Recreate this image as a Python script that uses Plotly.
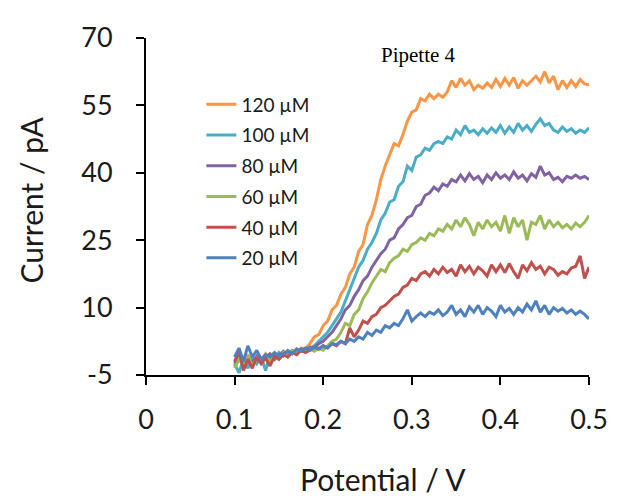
import plotly.graph_objects as go

potential = [0.100, 0.105, 0.110, 0.115, 0.120, 0.125, 0.130, 0.135, 0.140, 0.145,
             0.150, 0.155, 0.160, 0.165, 0.170, 0.175, 0.180, 0.185, 0.190, 0.195,
             0.200, 0.205, 0.210, 0.215, 0.220, 0.225, 0.230, 0.235, 0.240, 0.245,
             0.250, 0.255, 0.260, 0.265, 0.270, 0.275, 0.280, 0.285, 0.290, 0.295,
             0.300, 0.305, 0.310, 0.315, 0.320, 0.325, 0.330, 0.335, 0.340, 0.345,
             0.350, 0.355, 0.360, 0.365, 0.370, 0.375, 0.380, 0.385, 0.390, 0.395,
             0.400, 0.405, 0.410, 0.415, 0.420, 0.425, 0.430, 0.435, 0.440, 0.445,
             0.450, 0.455, 0.460, 0.465, 0.470, 0.475, 0.480, 0.485, 0.490, 0.495,
             0.500]

i_120 = [-3.0, -1.0, -2.5, -0.5, -2.0, -1.0, -1.8, -0.3, -1.5, -0.2,
         -1.0, 0.3, -0.5, 0.5, 0.0, 1.0, 0.8, 2.0, 3.5, 4.0,
         6.0, 7.0, 9.5, 10.5, 13.0, 14.5, 17.5, 19.0, 22.5, 24.0,
         28.5, 30.5, 34.0, 38.5, 41.5, 44.0, 46.5, 46.0, 48.5, 51.5,
         53.5, 54.0, 56.5, 56.0, 57.5, 56.5, 57.5, 56.8, 58.0, 60.5,
         59.0, 61.0, 59.5, 60.5, 58.5, 59.5, 58.8, 60.0, 59.0, 60.8,
         59.2, 61.0, 59.5, 61.2, 58.8, 60.5, 59.5, 60.5, 61.5, 60.2,
         62.5, 60.0, 61.5, 58.5, 60.5, 59.0, 60.5, 59.2, 60.8, 59.8,
         59.5]

i_100 = [-2.5, -4.5, -1.5, -3.5, -1.0, -2.5, -1.0, -4.0, -0.5, -1.5,
         0.0, -0.8, 0.5, -0.2, 0.5, 0.2, 1.0, 0.8, 1.5, 2.5,
         3.5, 4.5, 6.0, 7.5, 9.0, 11.5, 14.0, 16.5, 19.0, 20.5,
         23.0, 24.5, 26.5, 29.5, 31.0, 33.5, 34.0, 37.0, 38.0, 41.5,
         40.5, 43.5, 44.0, 45.5, 45.0, 46.5, 47.0, 46.5, 48.0, 47.5,
         49.5, 48.5, 50.5, 49.0, 49.5, 48.5, 49.8, 48.8, 50.0, 49.0,
         50.5, 48.8, 50.2, 49.0, 51.0, 49.5, 50.5, 49.2, 50.8, 52.0,
         50.5, 51.0, 49.5, 49.0, 50.2, 49.2, 49.8, 48.8, 49.5, 49.0,
         50.0]

i_80 = [-2.5, -0.5, -3.0, -1.5, -2.2, -0.8, -1.8, -1.0, -0.3, -1.5,
        -0.5, 0.2, -0.8, 0.4, 0.0, 0.8, 0.5, 1.2, 1.0, 2.0,
        2.5, 3.5, 4.5, 6.0, 7.5, 9.5, 10.5, 12.5, 14.0, 16.0,
        17.0, 19.0, 20.5, 22.0, 23.0, 25.0, 25.5, 27.5, 28.5, 30.0,
        30.5, 32.5, 33.0, 35.0, 35.5, 36.8, 36.0, 37.5, 37.0, 38.5,
        38.0, 39.5, 38.2, 39.8, 38.5, 39.2, 37.8, 39.5, 38.5, 40.0,
        38.8, 39.5, 38.5, 40.2, 38.8, 39.5, 38.2, 39.8, 39.0, 41.5,
        39.5, 40.0, 38.5, 39.0, 38.0, 39.2, 38.8, 39.5, 38.8, 39.2,
        38.5]

i_60 = [-3.5, -1.5, -2.8, -0.8, -3.0, -1.2, -2.2, -0.5, -1.8, -0.8,
        -1.5, 0.0, -1.0, 0.3, -0.2, 0.5, 0.2, 0.8, 0.3, 1.0,
        0.5, 1.5, 2.5, 3.0, 4.5, 6.5, 6.0, 8.5, 9.5, 12.0,
        13.5, 15.5, 17.0, 18.5, 18.0, 20.0, 21.0, 21.5, 23.0, 22.5,
        24.0, 24.5, 25.5, 25.0, 26.5, 26.0, 27.5, 27.0, 28.5, 27.5,
        29.5, 28.0, 30.0, 28.5, 26.0, 29.0, 27.5, 29.5, 28.0, 29.0,
        27.0, 30.5, 26.5, 30.0, 28.0, 29.5, 25.0, 29.0, 28.5, 30.5,
        27.5, 29.5, 28.0, 29.0, 27.8, 28.5, 27.5, 28.8, 28.0, 29.0,
        30.5]

i_40 = [-2.0, 0.5, -4.0, -1.5, -3.5, -1.0, -2.5, -1.2, -3.0, -0.8,
        -1.5, -0.5, -1.0, 0.0, -0.5, 0.5, 0.0, 0.5, 1.2, 0.8,
        1.5, 1.0, 2.0, 1.5, 2.5, 2.0, 5.5, 3.5, 5.0, 7.0,
        6.5, 8.0, 8.5, 10.0, 10.5, 11.5, 12.5, 13.0, 14.5, 15.0,
        16.5, 16.0, 17.5, 18.0, 17.0, 18.5, 17.5, 19.0, 17.8, 18.5,
        17.0, 19.5, 18.0, 19.2, 17.5, 19.0, 18.2, 17.0, 19.5, 18.0,
        19.5, 17.8, 19.8, 18.0, 16.5, 19.5, 18.2, 20.0, 18.5, 19.2,
        17.5, 19.0, 18.5, 17.2, 18.0, 17.5, 18.8, 19.2, 21.5, 16.5,
        19.0]

i_20 = [-1.0, 1.0, -2.0, 1.5, -1.0, 0.5, -1.5, -0.5, -1.0, 0.0,
        -0.8, -0.2, 0.3, -0.3, 0.8, 0.3, 1.0, 0.5, 1.2, 0.8,
        1.5, 1.0, 2.0, 1.8, 2.5, 2.0, 3.0, 2.5, 3.5, 3.0,
        4.5, 3.8, 5.0, 4.5, 6.0, 5.5, 6.5, 6.0, 7.5, 9.5,
        7.0, 8.0, 8.8, 8.0, 9.0, 8.5, 9.5, 8.2, 9.0, 10.5,
        8.5, 9.5, 8.0, 10.2, 9.0, 10.5, 8.5, 10.0, 9.2, 8.0,
        10.5, 9.0, 9.8, 8.5, 10.0, 9.0, 10.8, 9.5, 11.5, 9.0,
        10.5, 8.5, 10.0, 9.2, 9.8, 8.8, 9.5, 8.5, 9.2, 8.5,
        7.5]

series_names = ["120 µM", "100 µM", "80 µM", "60 µM", "40 µM", "20 µM"]
series_values = [i_120, i_100, i_80, i_60, i_40, i_20]
series_colors = ["#F79646", "#4BACC6", "#8064A2", "#9BBB59", "#C0504D", "#4F81BD"]

x_ticks = [0, 0.1, 0.2, 0.3, 0.4, 0.5]
x_ticktext = ["0", "0.1", "0.2", "0.3", "0.4", "0.5"]
y_ticks = [-5, 10, 25, 40, 55, 70]
y_ticktext = ["-5", "10", "25", "40", "55", "70"]

fig = go.Figure()
for k, (name, vals, col) in enumerate(zip(series_names, series_values, series_colors)):
    fig.add_trace(go.Scatter(
        x=potential, y=vals, mode="lines", name=name,
        legendgroup=f"g{k}",
        line=dict(color=col, width=3),
    ))

FONT = "Lato, 'Open Sans', sans-serif"

fig.update_layout(
    width=626, height=500,
    margin=dict(l=138, r=45, t=21, b=133),
    paper_bgcolor="white", plot_bgcolor="white",
    font=dict(family=FONT, color="#1a1a1a"),
    showlegend=True,
    legend=dict(
        x=0.125, y=0.859, xanchor="left", yanchor="top",
        font=dict(size=19, family=FONT, color="#1a1a1a"),
        bgcolor="rgba(0,0,0,0)", borderwidth=0,
        tracegroupgap=3, traceorder="grouped",
    ),
    xaxis=dict(
        range=[0, 0.5], tickvals=x_ticks, ticktext=x_ticktext,
        showgrid=False, zeroline=False,
        showline=True, linecolor="black", linewidth=2,
        ticks="outside", ticklen=8, tickwidth=2, tickcolor="black",
        tickfont=dict(size=27, family=FONT, color="#1a1a1a"),
        ticklabelstandoff=12,
    ),
    yaxis=dict(
        range=[-5, 70], tickvals=y_ticks, ticktext=y_ticktext,
        showgrid=False, zeroline=False,
        showline=True, linecolor="black", linewidth=2,
        ticks="outside", ticklen=8, tickwidth=2, tickcolor="black",
        tickfont=dict(size=27, family=FONT, color="#1a1a1a"),
        ticklabelstandoff=18,
    ),
    annotations=[
        dict(text="Pipette 4", xref="paper", yref="paper", x=0.614, y=0.951,
             showarrow=False, font=dict(family="Liberation Serif, serif", size=21, color="black"),
             xanchor="center", yanchor="middle"),
        dict(text="Potential / V", xref="paper", yref="paper", x=0.535, y=-0.31,
             showarrow=False, font=dict(family=FONT, size=30, color="#1a1a1a"),
             xanchor="center", yanchor="middle"),
        dict(text="Current / pA", xref="paper", yref="paper", x=-0.26, y=0.52,
             showarrow=False, textangle=-90, font=dict(family=FONT, size=30, color="#1a1a1a"),
             xanchor="center", yanchor="middle"),
    ],
)

fig.write_html("out.html")
